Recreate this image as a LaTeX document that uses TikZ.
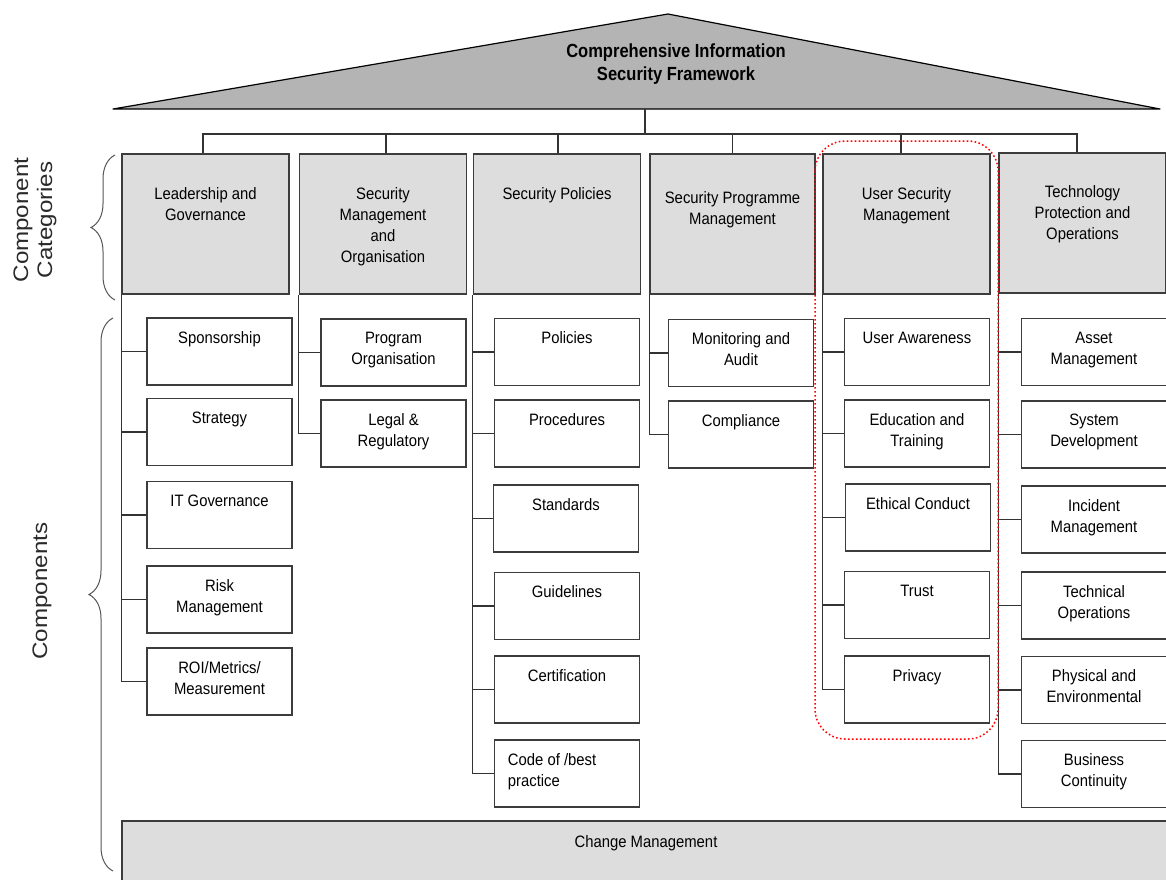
\documentclass[tikz,border=0pt]{standalone}
\usepackage{fontspec}
\setmainfont{Liberation Sans}[FakeStretch=0.9]
\newfontfamily\headfont{Liberation Sans}[FakeStretch=0.87]
\newfontfamily\sidefont{Liberation Sans}[FakeStretch=1.15]
\usetikzlibrary{decorations.pathreplacing}

\definecolor{boxline}{HTML}{3C3C3C}
\definecolor{catfill}{HTML}{DDDDDD}
\definecolor{rooffill}{HTML}{B4B4B4}
\definecolor{linecol}{HTML}{333333}
\definecolor{sidecol}{HTML}{2A2A2A}

\tikzset{
  box/.style={draw=boxline, line width=1.6pt},
  catbox/.style={box, fill=catfill, minimum width=167pt, minimum height=140pt, inner sep=0pt},
  compbox/.style={box, fill=white, minimum width=145pt, minimum height=67pt, inner sep=0pt},
  txt/.style={font=\fontsize{16.5}{21}\selectfont, align=center, inner sep=0pt,
              anchor=north, execute at begin node=\strut},
  % one-line and two-line texts near the top of a box
  cattxt/.style={txt, yshift=-31pt},
  cattxtm/.style={txt, yshift=-34pt},
  comptxt/.style={txt, yshift=-11pt},
  comptxtm/.style={txt, yshift=-14pt},
  link/.style={draw=linecol, line width=1.3pt},
  roof/.style={draw=black, line width=1.2pt, fill=rooffill, line join=round},
  focus/.style={draw=red, line width=1.5pt, dash pattern=on 1.6pt off 2.4pt, rounded corners=30pt},
  sidebrace/.style={draw=sidecol!80, line width=1pt, decorate, decoration={brace, amplitude=24pt}},
  side/.style={font=\sidefont\fontsize{21}{24}\selectfont, text=sidecol, align=center, inner sep=0pt},
}

\begin{document}
\begin{tikzpicture}[x=1pt, y=-1pt]
\clip (0,0) rectangle (1166,879);

% roof
\draw[roof] (113,109) -- (668,14) -- (1160,109) -- cycle;
\node[font=\headfont\bfseries\fontsize{19}{23}\selectfont, align=center, inner sep=0pt]
  (title) at (676,64.5) {Comprehensive Information\\Security Framework};

% component categories
\node[catbox, label={[cattxtm]north:Leadership and\\Governance}] (c1) at (205.5,224) {};
\node[catbox, label={[cattxtm]north:Security\\Management\\and\\Organisation}] (c2) at (383,224) {};
\node[catbox, label={[cattxt]north:Security Policies}] (c3) at (557,224) {};
\node[catbox, minimum width=165pt, label={[cattxtm, yshift=-4pt]north:Security Programme\\Management}] (c4) at (732.5,224) {};
\node[catbox, label={[cattxtm]north:User Security\\Management}] (c5) at (906.5,224) {};
\node[catbox, label={[cattxtm, yshift=1pt]north:Technology\\Protection and\\Operations}] (c6) at (1082.5,223) {};

% roof to categories
\coordinate (ridge) at (645,109);
\coordinate (bus) at (645,134);
\draw[link] (ridge) -- (bus);
\draw[link] ([xshift=-2.5pt]c1.north) |- (bus) -| ([xshift=-5.5pt]c6.north);
\draw[link] ([xshift=3pt]c2.north) -- ([xshift=3pt]c2.north |- bus);
\draw[link] ([xshift=1pt]c3.north) -- ([xshift=1pt]c3.north |- bus);
\draw[link] (c4.north) -- (c4.north |- bus);
\draw[link] ([xshift=-5.5pt]c5.north) -- ([xshift=-5.5pt]c5.north |- bus);

% Leadership and Governance
\node[compbox, label={[comptxt]north:Sponsorship}] (l1) at (219.5,351.5) {};
\node[compbox, label={[comptxt]north:Strategy}] (l2) at (219.5,432) {};
\node[compbox, label={[comptxt]north:IT Governance}] (l3) at (219.5,515) {};
\node[compbox, label={[comptxtm]north:Risk\\Management}] (l4) at (219.5,599.5) {};
\node[compbox, label={[comptxtm]north:ROI/Metrics/\\Measurement}] (l5) at (219.5,681.5) {};

% Security Management and Organisation
\node[compbox, label={[comptxtm]north:Program\\Organisation}] (m1) at (393.5,352.5) {};
\node[compbox, label={[comptxtm]north:Legal \&\\Regulatory}] (m2) at (393.5,433.5) {};

% Security Policies
\node[compbox, label={[comptxt]north:Policies}] (p1) at (567,352) {};
\node[compbox, label={[comptxt]north:Procedures}] (p2) at (567,433.5) {};
\node[compbox, label={[comptxt]north:Standards}] (p3) at (566,518.5) {};
\node[compbox, label={[comptxt]north:Guidelines}] (p4) at (567,606) {};
\node[compbox, label={[comptxt]north:Certification}] (p5) at (567,689.5) {};
\node[compbox, label={[comptxtm, anchor=north west, xshift=14pt, align=left]north west:Code of /best\\practice}] (p6) at (567,773.5) {};

% Security Programme Management
\node[compbox, label={[comptxtm]north:Monitoring and\\Audit}] (g1) at (741,353) {};
\node[compbox, label={[comptxt]north:Compliance}] (g2) at (741,434.5) {};

% User Security Management
\node[compbox, label={[comptxt]north:User Awareness}] (u1) at (917,352) {};
\node[compbox, label={[comptxtm]north:Education and\\Training}] (u2) at (917,433.5) {};
\node[compbox, label={[comptxt]north:Ethical Conduct}] (u3) at (918,517.5) {};
\node[compbox, label={[comptxt]north:Trust}] (u4) at (917,605) {};
\node[compbox, label={[comptxt]north:Privacy}] (u5) at (917,689.5) {};

% Technology Protection and Operations
\node[compbox, label={[comptxtm]north:Asset\\Management}] (t1) at (1094,352) {};
\node[compbox, label={[comptxtm]north:System\\Development}] (t2) at (1094,434.5) {};
\node[compbox, label={[comptxtm]north:Incident\\Management}] (t3) at (1094,519.5) {};
\node[compbox, label={[comptxtm]north:Technical\\Operations}] (t4) at (1094,605.5) {};
\node[compbox, label={[comptxtm]north:Physical and\\Environmental}] (t5) at (1094,690) {};
\node[compbox, label={[comptxtm]north:Business\\Continuity}] (t6) at (1094,774) {};

% spines and branches
\draw[link] (c1.south west) |- (l5.west);
\foreach \n in {l1,l2,l3,l4} \draw[link] (c1.south west |- \n.west) -- (\n.west);
\draw[link] (c2.south west) |- (m2.west);
\draw[link] (c2.south west |- m1.west) -- (m1.west);
\draw[link] (c3.south west) |- (p6.west);
\foreach \n in {p1,p2,p3,p4,p5} \draw[link] (c3.south west |- \n.west) -- (\n.west);
\draw[link] (c4.south west) |- (g2.west);
\draw[link] (c4.south west |- g1.west) -- (g1.west);
\draw[link] (c5.south west) |- (u5.west);
\foreach \n in {u1,u2,u3,u4} \draw[link] (c5.south west |- \n.west) -- (\n.west);
\draw[link] (c6.south west) |- (t6.west);
\foreach \n in {t1,t2,t3,t4,t5} \draw[link] (c6.south west |- \n.west) -- (\n.west);

% user security highlight
\draw[focus] (815,141) rectangle (998,739);

% change management base
\node[box, fill=catfill, minimum width=1048pt, minimum height=62pt, inner sep=0pt,
      label={[txt, yshift=-12pt]north:Change Management}] (cm) at (646,852) {};

% side labels and braces
\draw[sidebrace] (115,300) -- (115,155);
\draw[sidebrace] (113,871) -- (113,318);
\node[side, rotate=90] (catlab) at (35,220) {Component\\Categories};
\node[side, rotate=90] (complab) at (42,591) {Components};
\end{tikzpicture}
\end{document}
